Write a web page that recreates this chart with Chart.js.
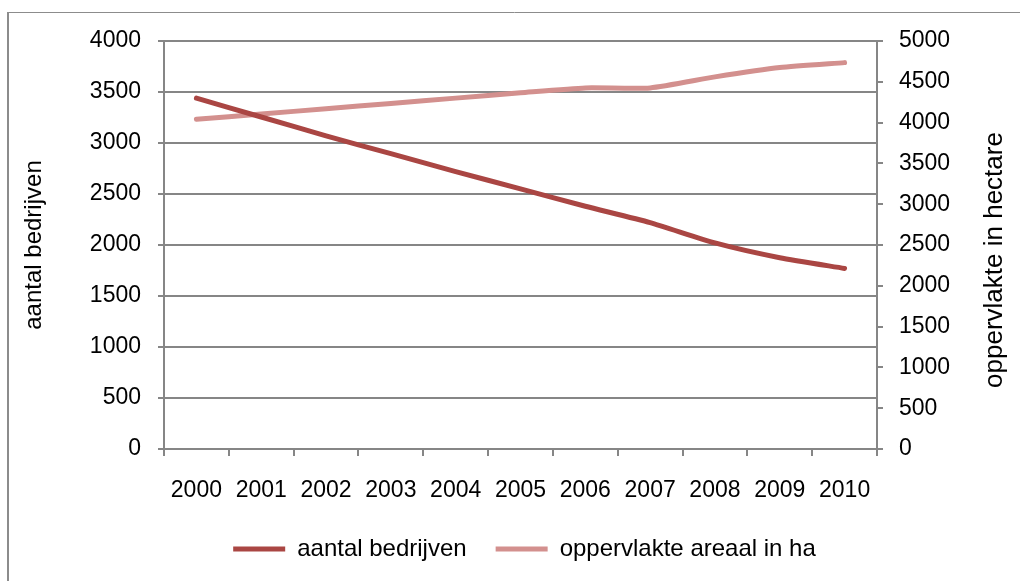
<!DOCTYPE html>
<html>
<head>
<meta charset="utf-8">
<script src="https://cdn.jsdelivr.net/npm/chart.js@4.4.1/dist/chart.umd.min.js"></script>
<style>
  html, body { margin: 0; padding: 0; background: #fff; }
  #grafiek { display: block; }
</style>
</head>
<body>
<canvas id="grafiek" width="1020" height="581"></canvas>
<script>
const jaren = ["2000", "2001", "2002", "2003", "2004", "2005", "2006", "2007", "2008", "2009", "2010"];
const aantalBedrijven = [3440, 3255, 3070, 2895, 2720, 2550, 2380, 2220, 2020, 1875, 1770];
const oppervlakteHa = [4040, 4105, 4170, 4235, 4300, 4365, 4425, 4425, 4560, 4675, 4735];
const reeksNamen = ["aantal bedrijven", "oppervlakte areaal in ha"];
const asTitels = ["aantal bedrijven", "oppervlakte in hectare"];
const linksMax = 4000;
const rechtsMax = 5000;
const stap = 500;

const lettertype = '"Liberation Sans", Arial, sans-serif';
const grijs = "#868686";

// kader rond de grafiek + as-titels (rechter titel leest van onder naar boven)
const kaderEnTitels = {
  id: "kaderEnTitels",
  beforeDraw(chart) {
    const ctx = chart.ctx;
    ctx.save();
    ctx.fillStyle = "#fff";
    ctx.fillRect(0, 0, chart.width, chart.height);
    ctx.strokeStyle = "#8c8c8c";
    ctx.lineWidth = 2;
    ctx.beginPath();
    ctx.moveTo(8, chart.height + 5);
    ctx.lineTo(8, 12);
    ctx.stroke();
    ctx.lineWidth = 1;
    ctx.beginPath();
    ctx.moveTo(8, 12.5);
    ctx.lineTo(chart.width + 5, 12.5);
    ctx.stroke();
    ctx.restore();
  },
  afterDraw(chart) {
    const ctx = chart.ctx;
    const { top, bottom } = chart.chartArea;
    ctx.save();
    ctx.fillStyle = "#000";
    ctx.textAlign = "center";
    ctx.textBaseline = "middle";

    ctx.font = "24px " + lettertype;
    ctx.translate(34, (top + bottom) / 2);
    ctx.rotate(-Math.PI / 2);
    ctx.fillText(asTitels[0], 0, 0);
    ctx.setTransform(1, 0, 0, 1, 0, 0);

    ctx.font = "26px " + lettertype;
    ctx.translate(995, (top + bottom) / 2 + 15);
    ctx.rotate(-Math.PI / 2);
    ctx.fillText(asTitels[1], 0, 0);
    ctx.restore();
  },
};

const zonderScheiding = (waarde) => String(waarde);

new Chart(document.getElementById("grafiek").getContext("2d"), {
  type: "line",
  data: {
    labels: jaren,
    datasets: [
      {
        label: reeksNamen[0],
        data: aantalBedrijven,
        yAxisID: "links",
        borderColor: "#AA4643",
        backgroundColor: "#AA4643",
        borderWidth: 5,
        borderCapStyle: "round",
        pointRadius: 0,
        tension: 0.2,
      },
      {
        label: reeksNamen[1],
        data: oppervlakteHa,
        yAxisID: "rechts",
        borderColor: "#D3908E",
        backgroundColor: "#D3908E",
        borderWidth: 5,
        borderCapStyle: "round",
        pointRadius: 0,
        tension: 0.2,
      },
    ],
  },
  options: {
    responsive: false,
    animation: false,
    layout: {
      padding: { left: 29, right: 0, top: 41, bottom: 10 },
    },
    plugins: {
      tooltip: { enabled: false },
      legend: {
        position: "bottom",
        labels: {
          boxWidth: 52,
          boxHeight: 0,
          padding: 29,
          color: "#000",
          font: { family: lettertype, size: 24 },
        },
      },
    },
    scales: {
      x: {
        offset: true,
        afterFit: (schaal) => { schaal.height = 59; },
        grid: {
          offset: true,
          drawOnChartArea: false,
          color: grijs,
          lineWidth: 2,
          tickLength: 7,
        },
        border: { color: grijs, width: 2 },
        ticks: {
          color: "#000",
          padding: 21,
          maxRotation: 0,
          autoSkip: false,
          font: { family: lettertype, size: 23 },
        },
      },
      links: {
        position: "left",
        min: 0,
        max: linksMax,
        afterFit: (schaal) => { schaal.width = 135; },
        grid: { color: grijs, lineWidth: 2, tickLength: 6 },
        border: { color: grijs, width: 2 },
        ticks: {
          stepSize: stap,
          callback: zonderScheiding,
          color: "#000",
          padding: 17,
          font: { family: lettertype, size: 23 },
        },
      },
      rechts: {
        position: "right",
        min: 0,
        max: rechtsMax,
        afterFit: (schaal) => { schaal.width = 143; },
        grid: { drawOnChartArea: false, color: grijs, lineWidth: 2, tickLength: 6 },
        border: { color: grijs, width: 2 },
        ticks: {
          stepSize: stap,
          callback: zonderScheiding,
          color: "#000",
          padding: 16,
          font: { family: lettertype, size: 23 },
        },
      },
    },
  },
  plugins: [kaderEnTitels],
});
</script>
</body>
</html>
